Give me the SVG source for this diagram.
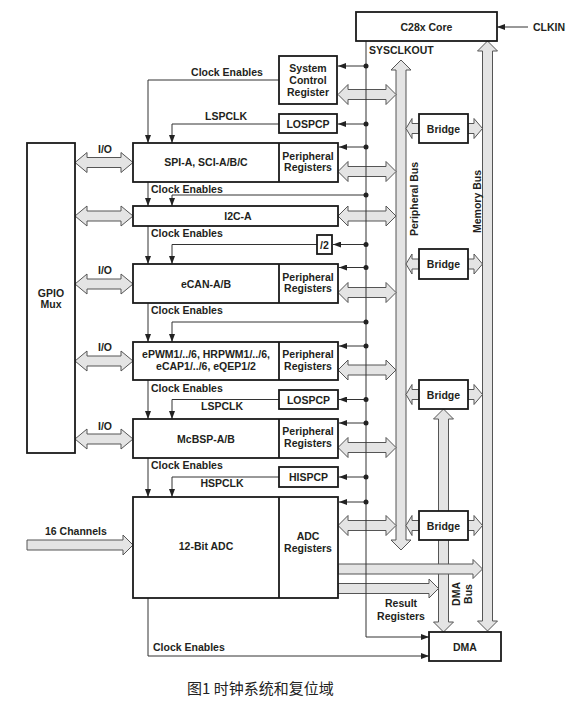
<svg xmlns="http://www.w3.org/2000/svg" width="580" height="702" viewBox="0 0 580 702">
<defs>
<style>
.t{font-family:"Liberation Sans",Arial,sans-serif;font-weight:bold;font-size:10.5px;fill:#231f20}
.c{text-anchor:middle}
.box{fill:#fff;stroke:#1a1a1a;stroke-width:1.8}
.bus{fill:#e4e4e4;stroke:#555;stroke-width:1}
.ln{fill:none;stroke:#333;stroke-width:1}
.dot{fill:#222}
.cap{font-family:"Noto Sans CJK SC","Noto Sans",sans-serif;font-size:15px;fill:#222}
</style>
<marker id="ah" viewBox="0 0 8 6" refX="8" refY="3" markerWidth="8" markerHeight="6" markerUnits="userSpaceOnUse" orient="auto">
<path d="M0,0 L8,3 L0,6 z" fill="#222"/>
</marker>
</defs>
<rect width="580" height="702" fill="#fff"/>

<g id="connectors">
 <g id="buses">
  <!-- peripheral bus -->
  <path class="bus" d="M401,60 L411,70 L406,70 L406,540 L411,540 L401,550 L391,540 L396,540 L396,70 L391,70 Z"/>
  <!-- memory bus -->
  <path class="bus" d="M487.5,41 L497.5,51 L492.5,51 L492.5,621 L497.5,621 L487.5,631 L477.5,621 L482.5,621 L482.5,51 L477.5,51 Z"/>
  <!-- DMA bus -->
  <path class="bus" d="M443.5,409 L453.5,419 L448.5,419 L448.5,622 L453.5,622 L443.5,632 L433.5,622 L438.5,622 L438.5,419 L433.5,419 Z"/>
  <!-- GPIO I/O arrows -->
  <path class="bus" d="M75,162.5 L87,152.5 L87,157.5 L121,157.5 L121,152.5 L133,162.5 L121,172.5 L121,167.5 L87,167.5 L87,172.5 Z"/>
  <path class="bus" d="M75,216 L87,206 L87,211 L121,211 L121,206 L133,216 L121,226 L121,221 L87,221 L87,226 Z"/>
  <path class="bus" d="M75,284 L87,274 L87,279 L121,279 L121,274 L133,284 L121,294 L121,289 L87,289 L87,294 Z"/>
  <path class="bus" d="M75,361 L87,351 L87,356 L121,356 L121,351 L133,361 L121,371 L121,366 L87,366 L87,371 Z"/>
  <path class="bus" d="M75,439 L87,429 L87,434 L121,434 L121,429 L133,439 L121,449 L121,444 L87,444 L87,449 Z"/>
  <!-- register <-> peripheral bus arrows -->
  <path class="bus" d="M338,94.5 L348,84.5 L348,89.5 L386,89.5 L386,84.5 L396,94.5 L386,104.5 L386,99.5 L348,99.5 L348,104.5 Z"/>
  <path class="bus" d="M338,171.5 L348,161.5 L348,166.5 L386,166.5 L386,161.5 L396,171.5 L386,181.5 L386,176.5 L348,176.5 L348,181.5 Z"/>
  <path class="bus" d="M338,216 L348,206 L348,211 L386,211 L386,206 L396,216 L386,226 L386,221 L348,221 L348,226 Z"/>
  <path class="bus" d="M338,292.5 L348,282.5 L348,287.5 L386,287.5 L386,282.5 L396,292.5 L386,302.5 L386,297.5 L348,297.5 L348,302.5 Z"/>
  <path class="bus" d="M338,370 L348,360 L348,365 L386,365 L386,360 L396,370 L386,380 L386,375 L348,375 L348,380 Z"/>
  <path class="bus" d="M338,447.5 L348,437.5 L348,442.5 L386,442.5 L386,437.5 L396,447.5 L386,457.5 L386,452.5 L348,452.5 L348,457.5 Z"/>
  <path class="bus" d="M338,525.5 L348,515.5 L348,520.5 L386,520.5 L386,515.5 L396,525.5 L386,535.5 L386,530.5 L348,530.5 L348,535.5 Z"/>
  <!-- bridge arrows -->
  <path class="bus" d="M406,128.5 L412,118.5 L412,123.5 L419,123.5 L419,133.5 L412,133.5 L412,138.5 Z"/>
  <path class="bus" d="M482.5,128.5 L474,118.5 L474,123.5 L468,123.5 L468,133.5 L474,133.5 L474,138.5 Z"/>
  <path class="bus" d="M406,264 L412,254 L412,259 L419,259 L419,269 L412,269 L412,274 Z"/>
  <path class="bus" d="M482.5,264 L474,254 L474,259 L468,259 L468,269 L474,269 L474,274 Z"/>
  <path class="bus" d="M406,394.5 L412,384.5 L412,389.5 L419,389.5 L419,399.5 L412,399.5 L412,404.5 Z"/>
  <path class="bus" d="M482.5,394.5 L474,384.5 L474,389.5 L468,389.5 L468,399.5 L474,399.5 L474,404.5 Z"/>
  <path class="bus" d="M406,525.5 L412,515.5 L412,520.5 L419,520.5 L419,530.5 L412,530.5 L412,535.5 Z"/>
  <path class="bus" d="M482.5,525.5 L474,515.5 L474,520.5 L468,520.5 L468,530.5 L474,530.5 L474,535.5 Z"/>
  <!-- 16 channels -->
  <path class="bus" d="M27,540 L123,540 L123,535 L133,545 L123,555 L123,550 L27,550 Z"/>
  <!-- ADC results -->
  <path class="bus" d="M338,564 L473,564 L473,559.5 L482.5,569 L473,578.5 L473,574 L338,574 Z"/>
  <path class="bus" d="M338,583.5 L429,583.5 L429,579 L438.5,588.5 L429,598 L429,593.5 L338,593.5 Z"/>
 </g>
 <g id="lines">
  <path class="ln" d="M528,27 H497" marker-end="url(#ah)"/>
  <path class="ln" d="M366,41 V637 H429" marker-end="url(#ah)"/>
  <!-- clock enables chain -->
  <path class="ln" d="M279,80 H148 V143" marker-end="url(#ah)"/>
  <path class="ln" d="M148,182 V206" marker-end="url(#ah)"/>
  <path class="ln" d="M148,226 V264" marker-end="url(#ah)"/>
  <path class="ln" d="M148,303 V342" marker-end="url(#ah)"/>
  <path class="ln" d="M148,380 V419" marker-end="url(#ah)"/>
  <path class="ln" d="M148,458 V497" marker-end="url(#ah)"/>
  <path class="ln" d="M148,598 V656 H429" marker-end="url(#ah)"/>
  <!-- peripheral clocks -->
  <path class="ln" d="M279,124 H172 V143" marker-end="url(#ah)"/>
  <path class="ln" d="M366,195 H172 V206" marker-end="url(#ah)"/>
  <path class="ln" d="M317,244.5 H172 V264" marker-end="url(#ah)"/>
  <path class="ln" d="M366,322 H172 V342" marker-end="url(#ah)"/>
  <path class="ln" d="M279,399.5 H172 V419" marker-end="url(#ah)"/>
  <path class="ln" d="M279,477 H172 V497" marker-end="url(#ah)"/>
  <!-- SYSCLKOUT taps -->
  <path class="ln" d="M366,66 H338" marker-end="url(#ah)"/>
  <path class="ln" d="M366,124 H338" marker-end="url(#ah)"/>
  <path class="ln" d="M366,147 H339" marker-end="url(#ah)"/>
  <path class="ln" d="M366,244.5 H333" marker-end="url(#ah)"/>
  <path class="ln" d="M366,267.5 H339" marker-end="url(#ah)"/>
  <path class="ln" d="M366,346 H339" marker-end="url(#ah)"/>
  <path class="ln" d="M366,399.5 H339" marker-end="url(#ah)"/>
  <path class="ln" d="M366,423 H339" marker-end="url(#ah)"/>
  <path class="ln" d="M366,477 H339" marker-end="url(#ah)"/>
  <path class="ln" d="M366,502 H339" marker-end="url(#ah)"/>
  <g class="dot">
   <circle cx="366" cy="66" r="2.5"/><circle cx="366" cy="124" r="2.5"/><circle cx="366" cy="147" r="2.5"/>
   <circle cx="366" cy="195" r="2.5"/><circle cx="366" cy="244.5" r="2.5"/><circle cx="366" cy="267.5" r="2.5"/>
   <circle cx="366" cy="322" r="2.5"/><circle cx="366" cy="346" r="2.5"/><circle cx="366" cy="399.5" r="2.5"/>
   <circle cx="366" cy="423" r="2.5"/><circle cx="366" cy="477" r="2.5"/><circle cx="366" cy="502" r="2.5"/>
  </g>
 </g>
 <g id="labels">
  <text class="t" x="533" y="31">CLKIN</text>
  <text class="t" x="369" y="54">SYSCLKOUT</text>
  <text class="t c" x="227" y="76">Clock Enables</text>
  <text class="t c" x="226" y="120">LSPCLK</text>
  <text class="t" x="105" y="153" text-anchor="middle">I/O</text>
  <text class="t" x="151" y="193">Clock Enables</text>
  <text class="t" x="151" y="237">Clock Enables</text>
  <text class="t" x="105" y="274" text-anchor="middle">I/O</text>
  <text class="t" x="151" y="314">Clock Enables</text>
  <text class="t" x="105" y="351" text-anchor="middle">I/O</text>
  <text class="t" x="151" y="392">Clock Enables</text>
  <text class="t c" x="222" y="410">LSPCLK</text>
  <text class="t" x="105" y="429.5" text-anchor="middle">I/O</text>
  <text class="t" x="151" y="469">Clock Enables</text>
  <text class="t c" x="222" y="487">HSPCLK</text>
  <text class="t" x="45" y="535">16 Channels</text>
  <text class="t" x="153" y="650.5">Clock Enables</text>
  <text class="t c" x="401" y="607">Result</text>
  <text class="t c" x="401" y="620">Registers</text>
  <text class="t" transform="translate(417.5,236) rotate(-90)">Peripheral Bus</text>
  <text class="t" transform="translate(480.5,233) rotate(-90)">Memory Bus</text>
  <text class="t c" transform="translate(460,594) rotate(-90)">DMA</text>
  <text class="t c" transform="translate(472,594) rotate(-90)">Bus</text>
 </g>
</g>

<g id="core"><rect class="box" x="356" y="12" width="141" height="29"/><text class="t c" x="426.5" y="31">C28x Core</text></g>
<g id="sysctrl"><rect class="box" x="279" y="56" width="58" height="48"/>
 <text class="t c" x="308" y="72">System</text><text class="t c" x="308" y="84">Control</text><text class="t c" x="308" y="96">Register</text></g>
<g id="lospcp1"><rect class="box" x="279" y="114" width="58" height="19"/><text class="t c" x="308" y="127.5">LOSPCP</text></g>
<g id="gpio"><rect class="box" x="27" y="143" width="48" height="310"/>
 <text class="t c" x="51" y="296.5">GPIO</text><text class="t c" x="51" y="308">Mux</text></g>
<g id="spi"><rect class="box" x="133" y="143" width="205" height="39"/><line class="ln" x1="279" y1="143" x2="279" y2="182" style="stroke:#1a1a1a;stroke-width:1.8"/>
 <text class="t c" x="206" y="166">SPI-A, SCI-A/B/C</text>
 <text class="t c" x="308" y="159.5">Peripheral</text><text class="t c" x="308" y="171">Registers</text></g>
<g id="i2c"><rect class="box" x="133" y="206" width="205" height="20"/><text class="t c" x="238" y="220">I2C-A</text></g>
<g id="div2"><rect class="box" x="317" y="235" width="15" height="19"/><text class="t c" x="324.5" y="248.5">/2</text></g>
<g id="ecan"><rect class="box" x="133" y="264" width="205" height="39"/><line x1="279" y1="264" x2="279" y2="303" style="stroke:#1a1a1a;stroke-width:1.8"/>
 <text class="t c" x="206" y="287.5">eCAN-A/B</text>
 <text class="t c" x="308" y="280.5">Peripheral</text><text class="t c" x="308" y="292">Registers</text></g>
<g id="epwm"><rect class="box" x="133" y="342" width="205" height="38"/><line x1="279" y1="342" x2="279" y2="380" style="stroke:#1a1a1a;stroke-width:1.8"/>
 <text class="t c" x="206" y="358">ePWM1/../6, HRPWM1/../6,</text><text class="t c" x="206" y="370">eCAP1/../6, eQEP1/2</text>
 <text class="t c" x="308" y="358">Peripheral</text><text class="t c" x="308" y="370">Registers</text></g>
<g id="lospcp2"><rect class="box" x="279" y="390" width="59" height="19"/><text class="t c" x="308.5" y="403.5">LOSPCP</text></g>
<g id="mcbsp"><rect class="box" x="133" y="419" width="205" height="39"/><line x1="279" y1="419" x2="279" y2="458" style="stroke:#1a1a1a;stroke-width:1.8"/>
 <text class="t c" x="206" y="443">McBSP-A/B</text>
 <text class="t c" x="308" y="435">Peripheral</text><text class="t c" x="308" y="447">Registers</text></g>
<g id="hispcp"><rect class="box" x="279" y="467" width="59" height="20"/><text class="t c" x="308.5" y="481">HISPCP</text></g>
<g id="adc"><rect class="box" x="133" y="497" width="205" height="101"/><line x1="279" y1="497" x2="279" y2="598" style="stroke:#1a1a1a;stroke-width:1.8"/>
 <text class="t c" x="206" y="550">12-Bit ADC</text>
 <text class="t c" x="308" y="540">ADC</text><text class="t c" x="308" y="552">Registers</text></g>
<g id="bridge1"><rect class="box" x="419" y="114" width="49" height="29"/><text class="t c" x="443.5" y="132.5">Bridge</text></g>
<g id="bridge2"><rect class="box" x="419" y="249" width="49" height="30"/><text class="t c" x="443.5" y="268">Bridge</text></g>
<g id="bridge3"><rect class="box" x="419" y="380" width="49" height="29"/><text class="t c" x="443.5" y="398.5">Bridge</text></g>
<g id="bridge4"><rect class="box" x="419" y="511" width="49" height="29"/><text class="t c" x="443.5" y="529.5">Bridge</text></g>
<g id="dma"><rect class="box" x="429" y="632" width="72" height="29"/><text class="t c" x="465" y="650.5">DMA</text></g>

<text class="cap" x="187" y="694">图1 时钟系统和复位域</text>
</svg>
